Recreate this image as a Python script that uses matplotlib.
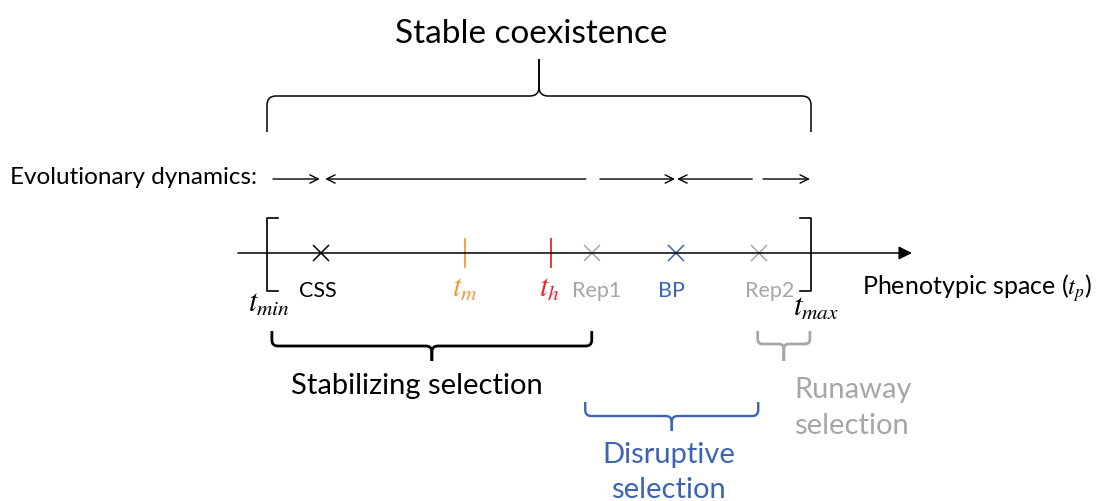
import numpy as np
import matplotlib
matplotlib.use("Agg")
import matplotlib.pyplot as plt
from matplotlib.path import Path
from matplotlib.patches import PathPatch

plt.rcParams['font.family'] = ['Lato', 'DejaVu Sans']
plt.rcParams['mathtext.fontset'] = 'stix'

# positions along the phenotypic axis (t_min = 0, t_max = 1)
t_min, t_max = 0.0, 1.0
t_m, t_h = 0.364, 0.522
point_names = ['CSS', 'Rep1', 'BP', 'Rep2']
point_pos = [0.099, 0.597, 0.752, 0.904]
point_colors = ['black', '#a6a6a6', '#3d64b2', '#a6a6a6']

# evolutionary dynamics arrows (start, end)
dyn_start = [0.011, 0.586, 0.612, 0.892, 0.912]
dyn_end = [0.097, 0.107, 0.750, 0.754, 0.998]

# selection regimes: (from, to, label, colour)
regime_from = [0.009, 0.585, 0.902]
regime_to = [0.597, 0.903, 0.998]
regime_colors = ['black', '#3d64b2', '#a6a6a6']

PX = 544.0   # pixels per trait unit
X0 = 267.0   # pixel of t_min

fig = plt.figure(figsize=(10.98, 5.02), dpi=100)
ax = fig.add_axes([0, 0, 1, 1])
ax.set_xlim(-X0 / PX, (1098 - X0) / PX)
ax.set_ylim(502, 0)
ax.axis('off')


def brace(x0, x1, y_end, y_bar, y_tip, color, lw, r=6, rc=6):
    xc = (x0 + x1) / 2
    s = np.sign(y_bar - y_end)
    for xa, d in ((x0, 1), (x1, -1)):
        verts = [(xa, y_end), (xa, y_bar - s * r), (xa, y_bar), (xa + d * r / PX, y_bar),
                 (xc - d * rc / PX, y_bar), (xc, y_bar), (xc, y_bar + s * rc), (xc, y_tip)]
        codes = [Path.MOVETO, Path.LINETO, Path.CURVE3, Path.CURVE3,
                 Path.LINETO, Path.CURVE3, Path.CURVE3, Path.LINETO]
        ax.add_patch(PathPatch(Path(verts, codes), fill=False, ec=color, lw=lw))


# title brace
brace(t_min, t_max, 133, 97, 60, 'black', 1.1, r=9, rc=9)
ax.text((t_min + t_max) / 2 - 0.014, 43, 'Stable coexistence', fontsize=24,
        ha='center', va='baseline')

# evolutionary dynamics
ax.text(-X0 / PX + 10 / PX, 184, 'Evolutionary dynamics:', fontsize=17.5, va='baseline')
for a, b in zip(dyn_start, dyn_end):
    ax.annotate('', xy=(b, 180), xytext=(a, 180),
                arrowprops=dict(arrowstyle='->', lw=1.0, color='black',
                                mutation_scale=15, shrinkA=0, shrinkB=0))

# phenotypic axis
ax.annotate('', xy=(t_max + 101 / PX, 254), xytext=(t_min - 29 / PX, 254),
            arrowprops=dict(arrowstyle='-|>', lw=1.1, color='black',
                            mutation_scale=20, shrinkA=0, shrinkB=0))
ax.text(t_max + 51 / PX, 295, 'Phenotypic space ($t_p$)', fontsize=18, va='baseline')

# domain brackets
tick = 11 / PX
ax.plot([t_min + tick, t_min, t_min, t_min + tick], [219, 219, 292, 292], color='black', lw=1.2)
ax.plot([t_max - tick, t_max, t_max, t_max - tick], [219, 219, 292, 292], color='black', lw=1.2)
ax.text(t_min + 2 / PX, 312, '$t_{min}$', fontsize=22, ha='center', va='baseline')
ax.text(t_max + 5 / PX, 316, '$t_{max}$', fontsize=22, ha='center', va='baseline')

# t_m and t_h
ax.plot([t_m, t_m], [240, 268], color='#f29a3a', lw=1.3)
ax.plot([t_h, t_h], [240, 268], color='#e8262a', lw=1.3)
ax.text(t_m, 297, '$t_m$', fontsize=22, color='#f29a3a', ha='center', va='baseline')
ax.text(t_h - 2 / PX, 297, '$t_h$', fontsize=22, color='#e8262a', ha='center', va='baseline')

# singular points
label_dx = [-3, 5, -5, 11]
for name, p, c, dx in zip(point_names, point_pos, point_colors, label_dx):
    ax.plot(p, 254, marker='x', ms=11.5, mew=1.1, color=c, ls='none')
    ax.text(p + dx / PX, 297, name, fontsize=15.5, color=c, ha='center', va='baseline')

# selection regimes
brace(regime_from[0], regime_to[0], 332, 347, 362, regime_colors[0], 2.0)
ax.text((regime_from[0] + regime_to[0]) / 2 - 15 / PX, 394, 'Stabilizing selection',
        fontsize=21, ha='center', va='baseline', color=regime_colors[0])

brace(regime_from[1], regime_to[1], 403, 417, 432, regime_colors[1], 1.7)
x = (regime_from[1] + regime_to[1]) / 2 - 3 / PX
ax.text(x, 463, 'Disruptive', fontsize=21, ha='center', va='baseline', color=regime_colors[1])
ax.text(x, 498, 'selection', fontsize=21, ha='center', va='baseline', color=regime_colors[1])

brace(regime_from[2], regime_to[2], 332, 345, 362, regime_colors[2], 2.0, r=5, rc=5)
x = regime_to[2] - 16 / PX
ax.text(x, 398, 'Runaway', fontsize=21, va='baseline', color=regime_colors[2])
ax.text(x, 434, 'selection', fontsize=21, va='baseline', color=regime_colors[2])

fig.savefig('out.png', dpi=100)
